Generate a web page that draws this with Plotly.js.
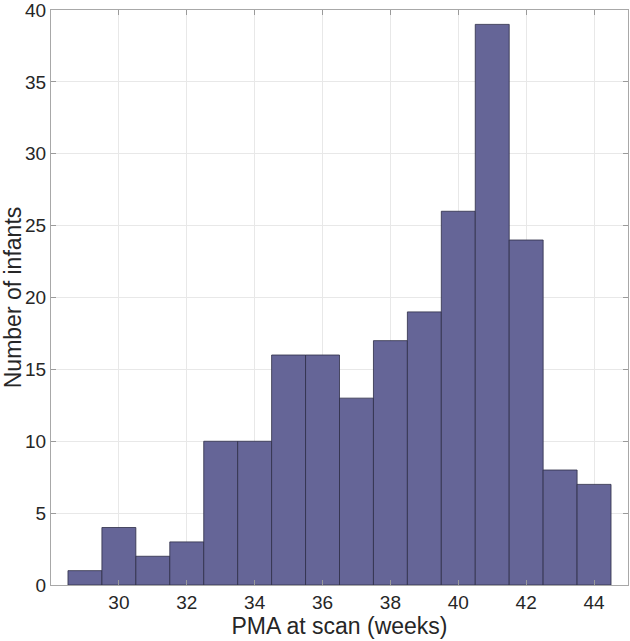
<!DOCTYPE html>
<html>
<head>
<meta charset="utf-8">
<script src="https://cdn.plot.ly/plotly-3.0.1.min.js"></script>
<style>html,body{margin:0;padding:0;background:#fff;}#chart{width:630px;height:641px;}</style>
</head>
<body>
<div id="chart"></div>
<script>
// Bin centers (weeks PMA) and counts
const binCenters = [29, 30, 31, 32, 33, 34, 35, 36, 37, 38, 39, 40, 41, 42, 43, 44];
const counts = [1, 4, 2, 3, 10, 10, 16, 16, 13, 17, 19, 26, 39, 24, 8, 7];
const xTicks = [30, 32, 34, 36, 38, 40, 42, 44];
const yTicks = [0, 5, 10, 15, 20, 25, 30, 35, 40];

const trace = {
  type: 'bar',
  x: binCenters,
  y: counts,
  width: 1,
  marker: {color: 'rgb(101,101,151)', line: {color: 'rgb(45,45,70)', width: 0.8}},
  hoverinfo: 'x+y'
};

const fam = 'Liberation Sans, Arial, Helvetica, sans-serif';
const txt = '#262626';

const layout = {
  width: 630, height: 641,
  margin: {l: 51, r: 2, t: 10, b: 56},
  paper_bgcolor: '#fff', plot_bgcolor: '#fff',
  showlegend: false,
  bargap: 0,
  font: {family: fam, color: txt},
  xaxis: {
    range: [28, 45],
    tickvals: xTicks,
    ticks: 'inside', ticklen: 5, tickcolor: '#9a9a9a',
    showline: true, linecolor: '#a8a8a8', linewidth: 1, mirror: 'allticks',
    showgrid: true, gridcolor: '#e8e8e8', zeroline: false,
    ticklabeloverflow: 'allow',
    tickfont: {size: 19, family: fam, color: txt},
    title: {text: 'PMA at scan (weeks)', font: {size: 23, family: fam, color: txt}, standoff: 4}
  },
  yaxis: {
    range: [0, 40],
    tickvals: yTicks,
    ticks: 'inside', ticklen: 5, tickcolor: '#9a9a9a',
    showline: true, linecolor: '#a8a8a8', linewidth: 1, mirror: 'allticks',
    showgrid: true, gridcolor: '#e8e8e8', zeroline: false,
    ticklabeloverflow: 'allow',
    tickfont: {size: 19, family: fam, color: txt},
    title: {text: 'Number of infants', font: {size: 23, family: fam, color: txt}, standoff: 2}
  }
};

Plotly.newPlot('chart', [trace], layout, {displayModeBar: false, staticPlot: true});
</script>
</body>
</html>
